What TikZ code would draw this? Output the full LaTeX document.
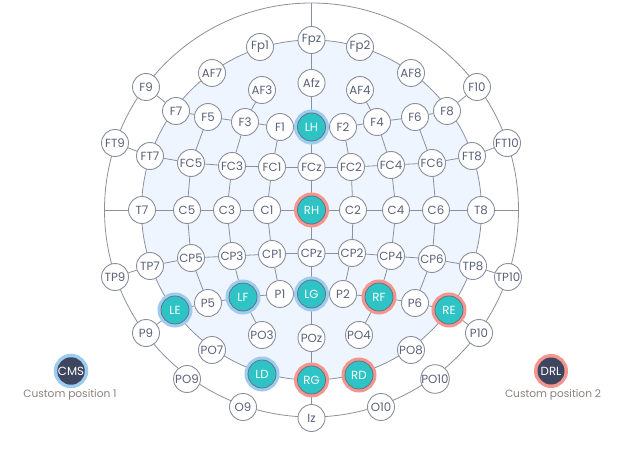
\documentclass[tikz,border=0pt]{standalone}
\usepackage{fontspec}
\setmainfont{Poppins}
\usetikzlibrary{backgrounds}
\definecolor{ln}{HTML}{8C909E}
\definecolor{txt}{HTML}{5A6178}
\definecolor{disk}{HTML}{EEF5FE}
\definecolor{tl}{HTML}{2EC4C6}
\definecolor{rim}{HTML}{6A7084}
\definecolor{haloB}{HTML}{9CCDF0}
\definecolor{haloR}{HTML}{F49690}
\definecolor{navy}{HTML}{3E465F}
\definecolor{capc}{HTML}{8A817C}
\begin{document}
\begin{tikzpicture}[x=1pt,y=-1pt,
  el/.style={circle,draw=ln,fill=white,line width=0.9pt,minimum size=27pt,inner sep=0pt,font=\fontsize{11.8}{13}\selectfont,text=txt},
  act/.style={circle,fill=tl,draw=rim,line width=0.8pt,minimum size=28pt,inner sep=0pt,font=\fontsize{11.8}{13}\selectfont,text=white,preaction={draw=#1,line width=7pt}},
  ref/.style={circle,fill=navy,line width=0.8pt,minimum size=27pt,inner sep=0pt,font=\fontsize{11.8}{13}\selectfont,text=white,preaction={draw=#1,line width=7pt}},
  capt/.style={font=\fontsize{10.6}{12}\selectfont,text=capc,inner sep=0pt},
  link/.style={draw=ln,line width=0.8pt}]
\useasboundingbox (0,0) rectangle (626,449);
% ---- nodes ----
\node[el] (Fpz) at (311.5,40) {Fpz};
\node[el] (Fp1) at (260,47) {Fp1};
\node[el] (Fp2) at (360,47) {Fp2};
\node[el] (AF7) at (212,73) {AF7};
\node[el] (AF3) at (262,90) {AF3};
\node[el] (Afz) at (311.5,83) {Afz};
\node[el] (AF4) at (360,90) {AF4};
\node[el] (AF8) at (411,73) {AF8};
\node[el] (F9) at (146,87) {F9};
\node[el] (F10) at (477,87) {F10};
\node[el] (F7) at (176,111) {F7};
\node[el] (F5) at (208,117) {F5};
\node[el] (F3) at (245,122) {F3};
\node[el] (F1) at (280,127) {F1};
\node[act=haloB] (LH) at (311.5,127) {LH};
\node[el] (F2) at (343,127) {F2};
\node[el] (F4) at (377,122) {F4};
\node[el] (F6) at (415,117) {F6};
\node[el] (F8) at (447,111) {F8};
\node[el] (FT9) at (115,143) {FT9};
\node[el] (FT10) at (507,143) {FT10};
\node[el] (FT7) at (150,156) {FT7};
\node[el] (FC5) at (191,163) {FC5};
\node[el] (FC3) at (232,166) {FC3};
\node[el] (FC1) at (272,167) {FC1};
\node[el] (FCz) at (311.5,167) {FCz};
\node[el] (FC2) at (351,167) {FC2};
\node[el] (FC4) at (391,165) {FC4};
\node[el] (FC6) at (432,163) {FC6};
\node[el] (FT8) at (472,156) {FT8};
\node[el] (T7) at (142,210) {T7};
\node[el] (C5) at (187,210) {C5};
\node[el] (C3) at (227,210) {C3};
\node[el] (C1) at (267,210) {C1};
\node[act=haloR] (RH) at (311.5,210) {RH};
\node[el] (C2) at (353,210) {C2};
\node[el] (C4) at (396,210) {C4};
\node[el] (C6) at (436,210) {C6};
\node[el] (T8) at (481,210) {T8};
\node[el] (TP9) at (115,277) {TP9};
\node[el] (TP7) at (150,266) {TP7};
\node[el] (CP5) at (191,258) {CP5};
\node[el] (CP3) at (232,256) {CP3};
\node[el] (CP1) at (272,254) {CP1};
\node[el] (CPz) at (311.5,253) {CPz};
\node[el] (CP2) at (352,253) {CP2};
\node[el] (CP4) at (391,256) {CP4};
\node[el] (CP6) at (432,259) {CP6};
\node[el] (TP8) at (473,266) {TP8};
\node[el] (TP10) at (508,277) {TP10};
\node[act=haloB] (LE) at (175,310) {LE};
\node[el] (P5) at (208,303) {P5};
\node[act=haloB] (LF) at (243,297) {LF};
\node[el] (P1) at (280,294) {P1};
\node[act=haloB] (LG) at (311.5,294) {LG};
\node[el] (P2) at (343,294) {P2};
\node[act=haloR] (RF) at (379,297) {RF};
\node[el] (P6) at (415,303) {P6};
\node[act=haloR] (RE) at (449,310) {RE};
\node[el] (P9) at (146,333) {P9};
\node[el] (P10) at (479,333) {P10};
\node[el] (PO7) at (212,350) {PO7};
\node[el] (PO3) at (262,335) {PO3};
\node[el] (POz) at (311.5,338) {POz};
\node[el] (PO4) at (359,335) {PO4};
\node[el] (PO8) at (411,350) {PO8};
\node[el] (PO9) at (187,379) {PO9};
\node[el] (PO10) at (435,379) {PO10};
\node[act=haloB] (LD) at (262,374) {LD};
\node[act=haloR] (RG) at (311.5,380) {RG};
\node[act=haloR] (RD) at (359,375) {RD};
\node[el] (O9) at (243,407) {O9};
\node[el] (Iz) at (311.5,418) {Iz};
\node[el] (O10) at (381,407) {O10};
\node[ref=haloB] (CMS) at (71,371) {CMS};
\node[ref=haloR] (DRL) at (551,371) {DRL};
\node[capt] (cap1) at (70,395) {Custom position 1};
\node[capt] (cap2) at (553,395) {Custom position 2};
\coordinate (top) at (311.5,3);
\coordinate (lft) at (104.5,210);
\coordinate (rgt) at (518.5,210);
% ---- background: head and connectors ----
\begin{scope}[on background layer]
  \fill[disk] (311.5,210) circle (170);
  \draw[link] (311.5,210) circle (170);
  \draw[link] (311.5,210) circle (207);
  \foreach \a/\b in {top/Fpz,Fpz/Afz,Afz/LH,LH/FCz,FCz/RH,RH/CPz,CPz/LG,LG/POz,POz/RG,RG/Iz,
    lft/T7,T7/C5,C5/C3,C3/C1,C1/RH,RH/C2,C2/C4,C4/C6,C6/T8,T8/rgt,
    F9/F7,FT9/FT7,TP9/TP7,P9/LE,F10/F8,FT10/FT8,TP10/TP8,P10/RE,
    F7/F5,F5/F3,F3/F1,F1/LH,LH/F2,F2/F4,F4/F6,F6/F8,
    FT7/FC5,FC5/FC3,FC3/FC1,FC1/FCz,FCz/FC2,FC2/FC4,FC4/FC6,FC6/FT8,
    TP7/CP5,CP5/CP3,CP3/CP1,CP1/CPz,CPz/CP2,CP2/CP4,CP4/CP6,CP6/TP8,
    LE/P5,P5/LF,LF/P1,P1/LG,LG/P2,P2/RF,RF/P6,P6/RE,
    AF3/F3,AF4/F4,
    F5/FC5,FC5/C5,C5/CP5,CP5/P5,
    F3/FC3,FC3/C3,C3/CP3,CP3/LF,
    F1/FC1,FC1/C1,C1/CP1,CP1/P1,
    F2/FC2,FC2/C2,C2/CP2,CP2/P2,
    F4/FC4,FC4/C4,C4/CP4,CP4/RF,
    F6/FC6,FC6/C6,C6/CP6,CP6/P6,
    PO3/LF,PO4/RF}
    \draw[link] (\a) -- (\b);
\end{scope}
\end{tikzpicture}
\end{document}
